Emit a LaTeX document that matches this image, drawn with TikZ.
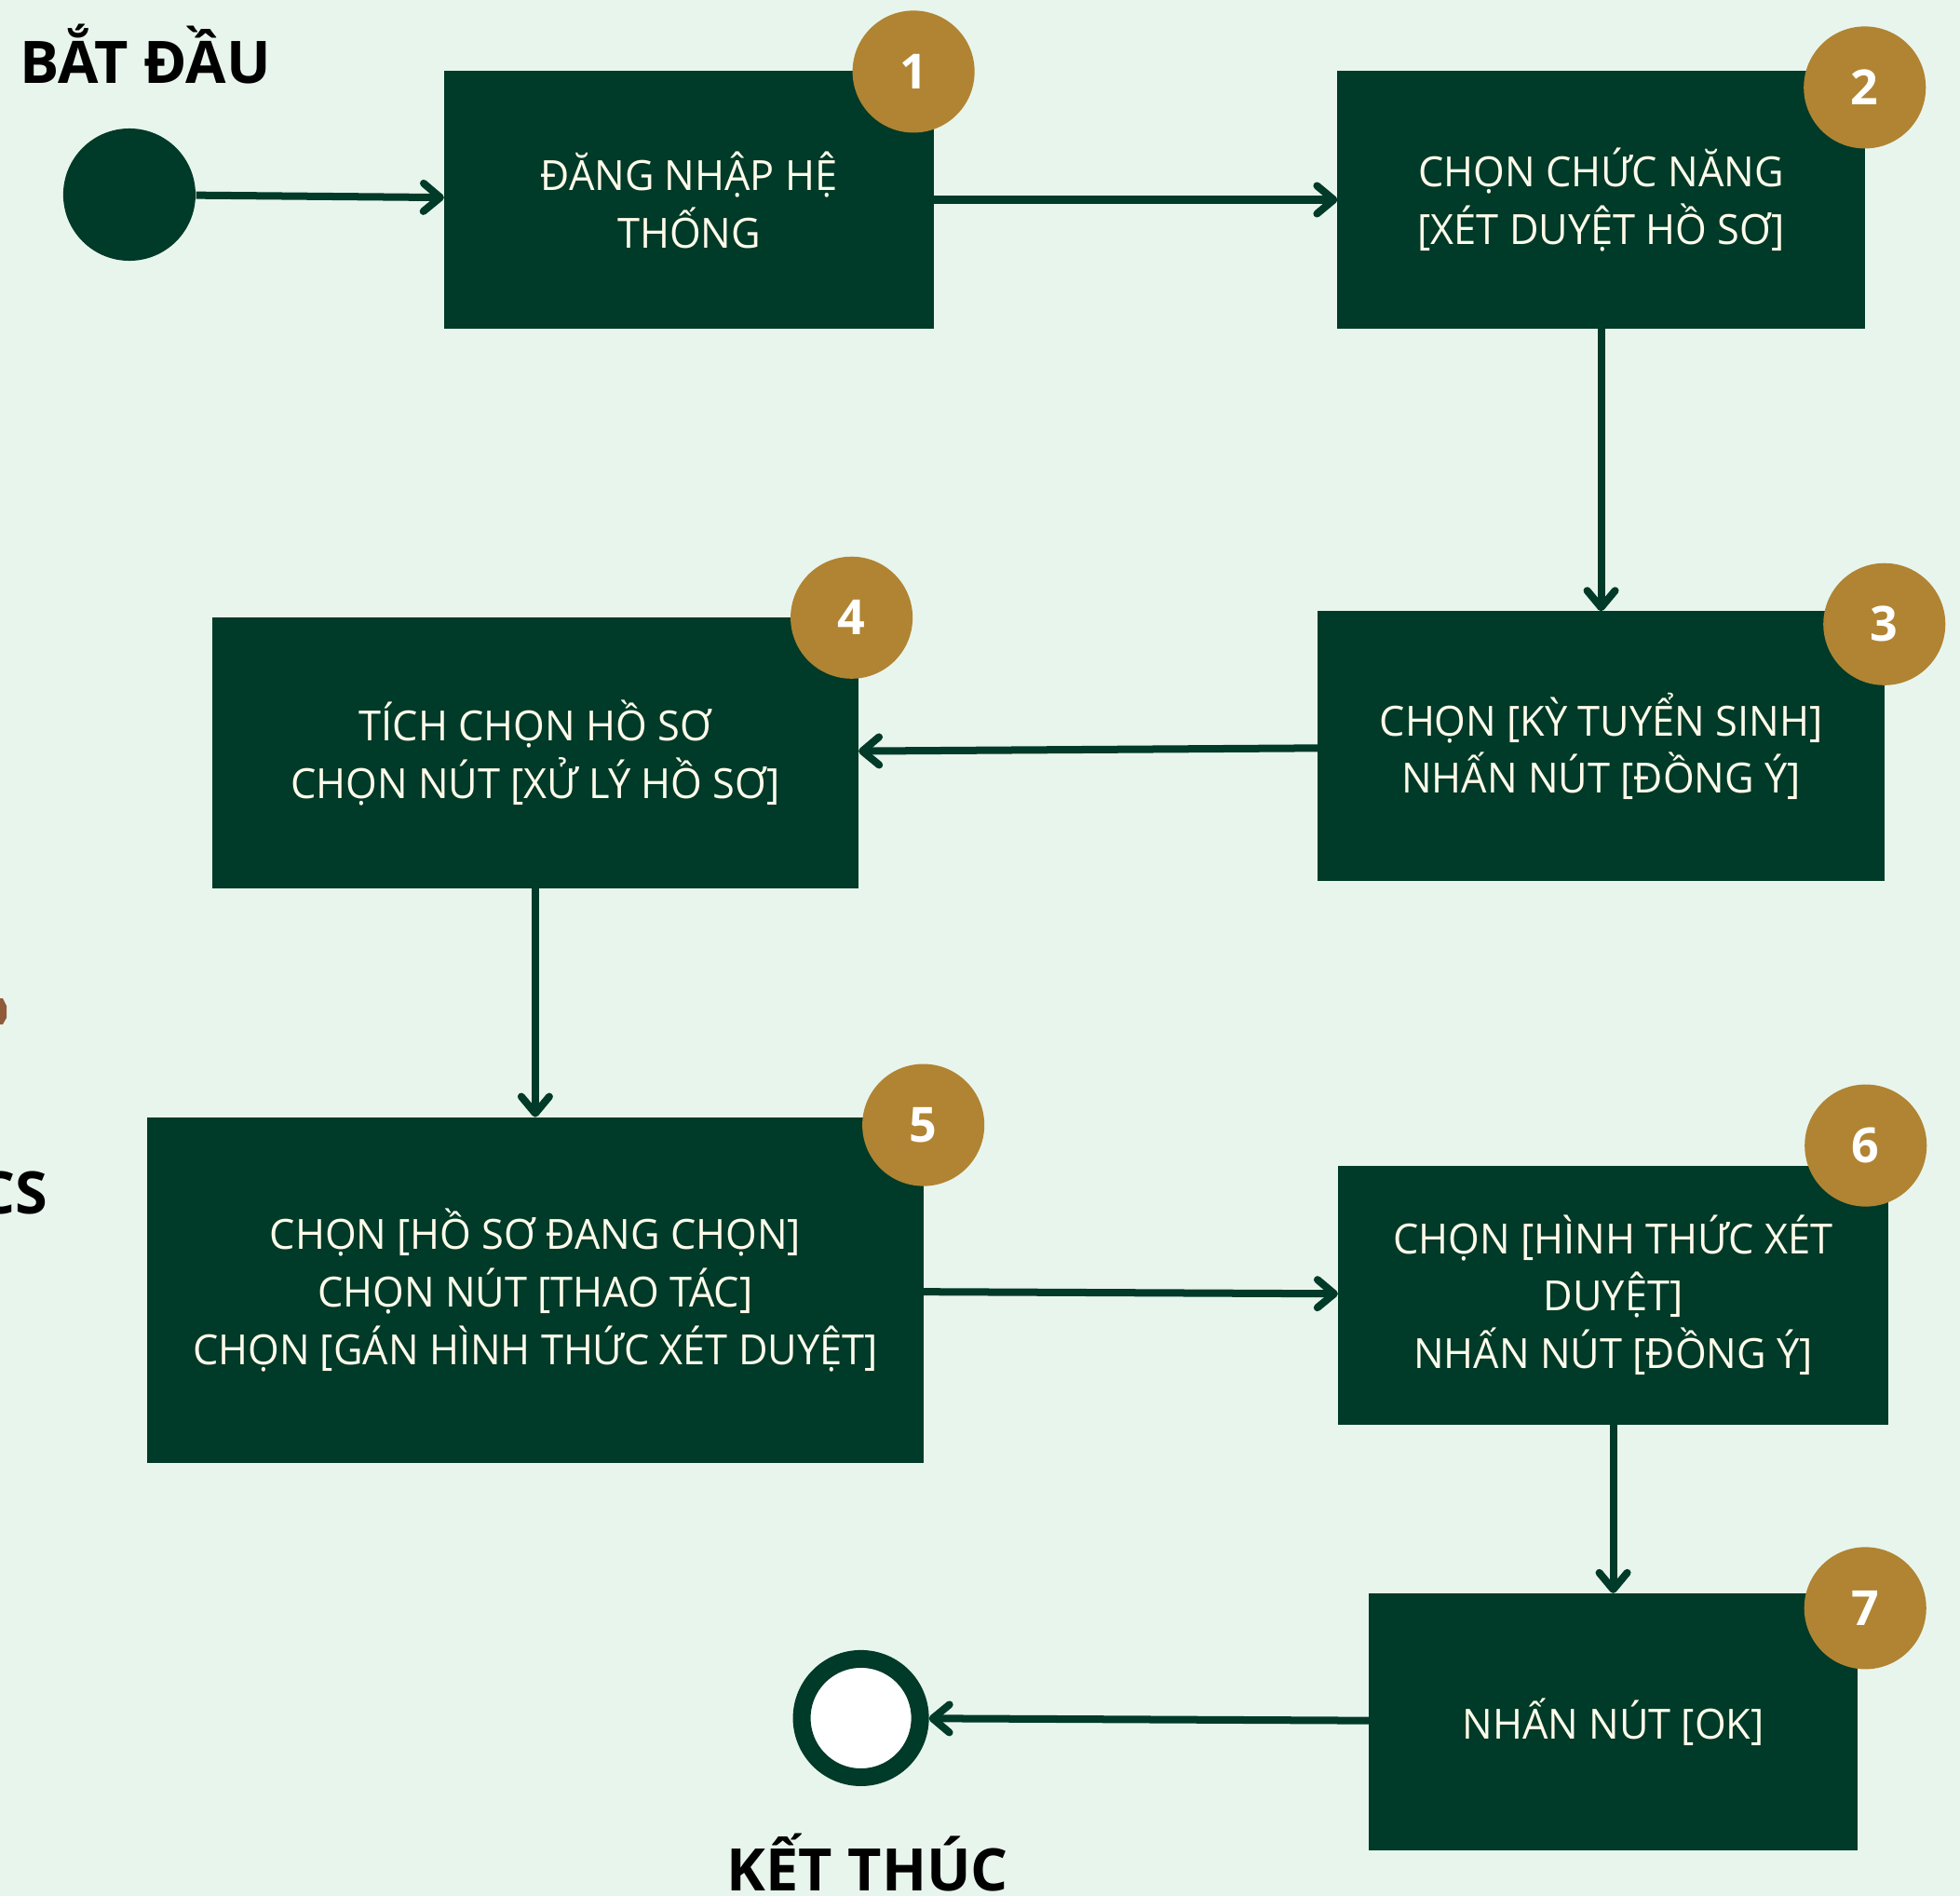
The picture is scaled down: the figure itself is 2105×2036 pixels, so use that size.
\documentclass[tikz,border=0pt]{standalone}
\usepackage{fontspec}
\setmainfont{Open Sans}
\newfontfamily\boxfont{Open Sans}[FakeStretch=0.97]
\usetikzlibrary{positioning, arrows.meta}

\definecolor{bgmint}{RGB}{232,245,237}
\definecolor{pine}{RGB}{0,58,40}
\definecolor{ochre}{RGB}{176,132,50}
\definecolor{cream}{RGB}{255,251,234}
\definecolor{rust}{RGB}{143,91,58}

\begin{document}
\begin{tikzpicture}[x=0.01cm, y=-0.01cm]

% Define block styles
\tikzstyle{stepbox} = [rectangle, fill=pine, text=cream, align=center, inner sep=0pt, outer sep=0pt, font=\boxfont\fontsize{12.7pt}{17.6pt}\selectfont]
\tikzstyle{badge} = [circle, fill=ochre, text=white, minimum size=1.31cm, inner sep=0pt, font=\fontsize{14.8pt}{16pt}\selectfont\bfseries]
\tikzstyle{heading} = [text=black, inner sep=0pt, font=\fontsize{17.9pt}{20pt}\selectfont\bfseries]
\tikzstyle{arrow} = [draw=pine, line width=0.08cm, -{Straight Barb[length=0.18cm, width=0.3cm, round]}]

% Background
\fill [bgmint] (0,0) rectangle (2105,2036);
\useasboundingbox (0,0) rectangle (2105,2036);
\clip (0,0) rectangle (2105,2036);

% Define nodes
\node (login) [stepbox, minimum width=5.26cm, minimum height=2.77cm] at (740,214.5) {ĐĂNG NHẬP HỆ\\THỐNG};
\node (function) [stepbox, right=4.33cm of login, minimum width=5.66cm, minimum height=2.77cm] {CHỌN CHỨC NĂNG\\{[}XÉT DUYỆT HỒ SƠ]};
\node (term) [stepbox, below=3.03cm of function, minimum width=6.08cm, minimum height=2.90cm] {CHỌN [KỲ TUYỂN SINH]\\NHẤN NÚT [ĐỒNG Ý]};
\node (tick) [stepbox, left=4.93cm of term, yshift=-0.075cm, minimum width=6.94cm, minimum height=2.91cm] {TÍCH CHỌN HỒ SƠ\\CHỌN NÚT [XỬ LÝ HỒ SƠ]};
\node (action) [stepbox, below=2.45cm of tick, minimum width=8.33cm, minimum height=3.71cm] {CHỌN [HỒ SƠ ĐANG CHỌN]\\CHỌN NÚT [THAO TÁC]\\CHỌN [GÁN HÌNH THỨC XÉT DUYỆT]};
\node (form) [stepbox, right=4.45cm of action, yshift=-0.055cm, minimum width=5.91cm, minimum height=2.78cm] {CHỌN [HÌNH THỨC XÉT\\DUYỆT]\\NHẤN NÚT [ĐỒNG Ý]};
\node (confirm) [stepbox, below=1.81cm of form, minimum width=5.25cm, minimum height=2.76cm] {NHẤN NÚT [OK]};

\node (start) [circle, fill=pine, inner sep=0pt, minimum size=1.42cm, left=2.66cm of login, yshift=0.055cm] {};
\node (stop) [circle, fill=white, draw=pine, line width=0.19cm, inner sep=0pt, minimum size=1.27cm, left=4.72cm of confirm, yshift=0.04cm] {};

\node (begin) [heading, anchor=base west] at (21,90) {BẮT ĐẦU};
\node (finish) [heading, anchor=base] at (932,2030) {KẾT THÚC};
\node (cs) [heading, anchor=base east] at (52,1303) {CS};

% Number badges
\node (n1) [badge] at ([xshift=-0.22cm, yshift=-0.01cm]login.north east) {1};
\node (n2) [badge] at ([yshift=-0.18cm]function.north east) {2};
\node (n3) [badge] at ([yshift=-0.14cm]term.north east) {3};
\node (n4) [badge] at ([xshift=-0.075cm]tick.north east) {4};
\node (n5) [badge] at ([yshift=-0.085cm]action.north east) {5};
\node (n6) [badge] at ([xshift=-0.245cm, yshift=0.215cm]form.north east) {6};
\node (n7) [badge] at ([xshift=0.08cm, yshift=-0.16cm]confirm.north east) {7};

% Cut-off piece at the left edge
\fill [rust] (0,1072) -- (3,1072) -- (7,1080) -- (7,1093) -- (3,1100) -- (0,1100) -- cycle;

% Draw arrows
\draw [arrow] (start) -- (login);
\draw [arrow] (login) -- (function);
\draw [arrow] (function) -- (term);
\draw [arrow] (term) -- (tick);
\draw [arrow] (tick) -- (action);
\draw [arrow] (action) -- (form);
\draw [arrow] (form) -- (confirm);
\draw [arrow] (confirm) -- (stop);

\end{tikzpicture}
\end{document}
